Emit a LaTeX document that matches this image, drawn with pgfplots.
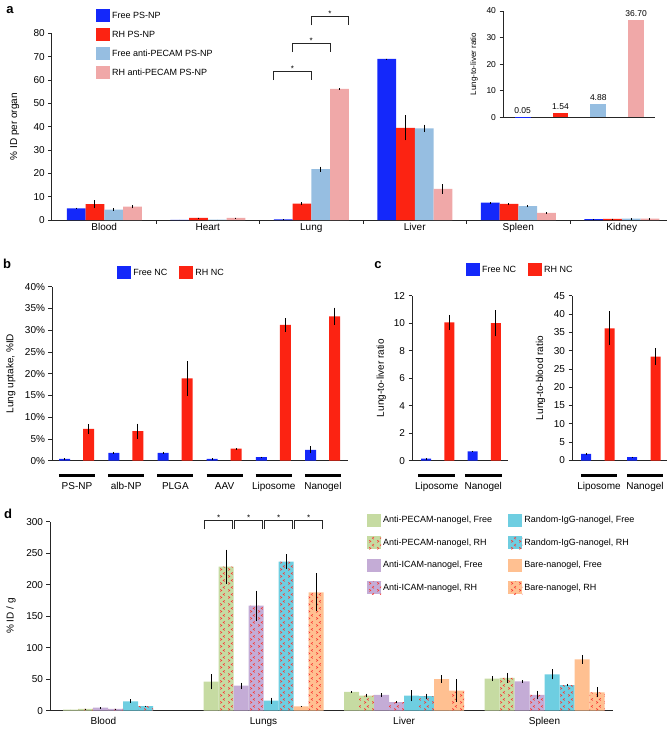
\documentclass[border=0pt]{standalone}
\usepackage{fontspec}
\setmainfont{Liberation Sans}
\usepackage{pgfplots}
\pgfplotsset{compat=1.18}
\usetikzlibrary{patterns}

\definecolor{cBlue}{RGB}{20,40,250}
\definecolor{cRed}{RGB}{252,35,18}
\definecolor{cLB}{RGB}{150,190,225}
\definecolor{cPink}{RGB}{240,168,168}
\definecolor{dGreen}{RGB}{198,219,162}
\definecolor{dPurple}{RGB}{196,172,214}
\definecolor{dCyan}{RGB}{110,206,225}
\definecolor{dOrange}{RGB}{255,192,145}
\definecolor{chev}{RGB}{250,55,50}

\pgfdeclarepatternformonly{chevrons}{\pgfqpoint{0pt}{0pt}}{\pgfqpoint{7.5pt}{7pt}}{\pgfqpoint{7.5pt}{7pt}}{%
  \pgfsetlinewidth{0.6pt}%
  \pgfpathmoveto{\pgfqpoint{1.3pt}{0.6pt}}\pgfpathlineto{\pgfqpoint{3.0pt}{1.8pt}}\pgfpathlineto{\pgfqpoint{1.3pt}{3.0pt}}%
  \pgfpathmoveto{\pgfqpoint{6.2pt}{4.0pt}}\pgfpathlineto{\pgfqpoint{4.5pt}{5.2pt}}\pgfpathlineto{\pgfqpoint{6.2pt}{6.4pt}}%
  \pgfusepath{stroke}}

\pgfplotsset{
  myax/.style={scale only axis, axis lines=left,
    axis line style={-, line width=0.8pt, black!85},
    tick align=outside, major tick length=3.5pt,
    tick style={line width=0.8pt, black!85},
    ticklabel style={font=\fontsize{10}{12}\selectfont},
    label style={font=\fontsize{10}{12}\selectfont},
    /pgf/number format/assume math mode=true,
    clip=false, ymin=0, ybar},
  eb/.style={error bars/.cd, y dir=both, y explicit, error mark=none,
    error bar style={line width=0.9pt, black}},
  sq/.style={legend image code/.code={\fill[##1] (0pt,-6.5pt) rectangle (14pt,6.5pt);}},
  rh/.style={postaction={pattern=chevrons, pattern color=chev}},
}

\begin{document}
\begin{tikzpicture}
\useasboundingbox (0,0) rectangle (667pt,-732pt);

% panel letters
\node[font=\bfseries\fontsize{13}{15}\selectfont] at (10pt,-10pt) {a};
\node[font=\bfseries\fontsize{13}{15}\selectfont] at (7pt,-264pt) {b};
\node[font=\bfseries\fontsize{13}{15}\selectfont] at (378pt,-265pt) {c};
\node[font=\bfseries\fontsize{13}{15}\selectfont] at (8pt,-514pt) {d};

% ---------------- panel a ----------------
\begin{axis}[myax, at={(51.7pt,-220pt)}, anchor=south west,
  width=615.6pt, height=186.7pt,
  xmin=-0.508, xmax=5.44, ymax=80, ytick={0,10,...,80},
  xtick={0.5,1.5,2.5,3.5,4.5}, xticklabels={,,,,},
  extra x ticks={0,1,2,3,4,5},
  extra x tick labels={Blood,Heart,Lung,Liver,Spleen,Kidney},
  extra x tick style={major tick length=0pt},
  bar width=18.75pt,
  ylabel={\% ID per organ},
  ylabel style={at={(axis description cs:-0.06,0.5)}, anchor=center},
  sq, legend cell align=left,
  legend style={draw=none, fill=none, at={(0.072,1.13)}, anchor=north west,
    inner sep=0pt, row sep=6pt, font=\fontsize{9}{11}\selectfont},
]
\addplot[fill=cBlue, draw=none, bar shift=-28.125pt, eb] coordinates {
  (0,5.0) +- (0,0.3) (1,0.1) +- (0,0) (2,0.3) +- (0,0.1)
  (3,69.0) +- (0,0.2) (4,7.4) +- (0,0.2) (5,0.4) +- (0,0.1)};
\addplot[fill=cRed, draw=none, bar shift=-9.375pt, eb] coordinates {
  (0,6.8) +- (0,1.7) (1,0.9) +- (0,0.1) (2,7.0) +- (0,0.6)
  (3,39.5) +- (0,5.4) (4,6.9) +- (0,0.3) (5,0.5) +- (0,0.1)};
\addplot[fill=cLB, draw=none, bar shift=9.375pt, eb] coordinates {
  (0,4.5) +- (0,0.6) (1,0.2) +- (0,0) (2,21.8) +- (0,1.1)
  (3,39.3) +- (0,1.6) (4,5.9) +- (0,0.4) (5,0.6) +- (0,0.2)};
\addplot[fill=cPink, draw=none, bar shift=28.125pt, eb] coordinates {
  (0,5.7) +- (0,0.7) (1,0.9) +- (0,0.1) (2,56.2) +- (0,0.2)
  (3,13.3) +- (0,2.1) (4,3.1) +- (0,0.3) (5,0.6) +- (0,0.2)};
\legend{Free PS-NP, RH PS-NP, Free anti-PECAM PS-NP, RH anti-PECAM PS-NP}
% significance brackets
\draw[line width=0.8pt, black!85] (axis cs:1.638,59.9) -- (axis cs:1.638,63.7) -- (axis cs:2.0,63.7) -- (axis cs:2.0,59.9);
\node[font=\fontsize{8}{9}\selectfont, anchor=base, inner sep=0pt] at (axis cs:1.819,63.7) {*};
\draw[line width=0.8pt, black!85] (axis cs:1.819,71.9) -- (axis cs:1.819,75.7) -- (axis cs:2.18,75.7) -- (axis cs:2.18,71.9);
\node[font=\fontsize{8}{9}\selectfont, anchor=base, inner sep=0pt] at (axis cs:2.0,75.7) {*};
\draw[line width=0.8pt, black!85] (axis cs:2.0,83.4) -- (axis cs:2.0,87.3) -- (axis cs:2.362,87.3) -- (axis cs:2.362,83.4);
\node[font=\fontsize{8}{9}\selectfont, anchor=base, inner sep=0pt] at (axis cs:2.181,87.3) {*};
\end{axis}

% inset
\begin{axis}[myax, at={(503pt,-117.3pt)}, anchor=south west,
  width=152pt, height=106.3pt,
  xmin=-0.52, xmax=3.5, ymax=40, ytick={0,10,...,40}, xtick=\empty,
  bar width=15.7pt,
  ticklabel style={font=\fontsize{8.5}{10}\selectfont},
  ylabel={Lung-to-liver ratio},
  ylabel style={font=\fontsize{8}{9}\selectfont, at={(axis description cs:-0.19,0.5)}, anchor=center},
  nodes near coords={\pgfmathprintnumber[fixed,fixed zerofill,precision=2]{\pgfplotspointmeta}},
  every node near coord/.append style={font=\fontsize{8.5}{10}\selectfont, black},
]
\addplot[fill=cBlue, draw=none, bar shift=0pt] coordinates {(0,0.05)};
\addplot[fill=cRed, draw=none, bar shift=0pt] coordinates {(1,1.54)};
\addplot[fill=cLB, draw=none, bar shift=0pt] coordinates {(2,4.88)};
\addplot[fill=cPink, draw=none, bar shift=0pt] coordinates {(3,36.70)};
\end{axis}

% ---------------- panel b ----------------
\begin{axis}[myax, at={(52pt,-460.7pt)}, anchor=south west,
  width=296pt, height=174pt,
  xmin=-0.508, xmax=5.51, ymax=40, ytick={0,5,...,40},
  yticklabel={\pgfmathprintnumber{\tick}\%},
  xtick={0,1,2,3,4,5}, xtick style={draw=none},
  xticklabels={{\rule{36pt}{3.3pt}\\[0.5pt]PS-NP},{\rule{36pt}{3.3pt}\\[0.5pt]alb-NP},
    {\rule{36pt}{3.3pt}\\[0.5pt]PLGA},{\rule{36pt}{3.3pt}\\[0.5pt]AAV},
    {\rule{36pt}{3.3pt}\\[0.5pt]Liposome},{\rule{36pt}{3.3pt}\\[0.5pt]Nanogel}},
  xticklabel style={align=center, yshift=-6pt},
  bar width=11pt,
  ylabel={Lung uptake, \%ID},
  ylabel style={at={(axis description cs:-0.139,0.5)}, anchor=center},
  sq, legend columns=2,
  legend style={draw=none, fill=none, at={(0.22,1.119)}, anchor=north west,
    inner sep=0pt, font=\fontsize{9}{11}\selectfont,
    /tikz/every even column/.append style={column sep=10pt}},
]
\addplot[fill=cBlue, draw=none, bar shift=-12.3pt, eb] coordinates {
  (0,0.45) +- (0,0.1) (1,1.8) +- (0,0.2) (2,1.8) +- (0,0.2)
  (3,0.4) +- (0,0.15) (4,0.8) +- (0,0.15) (5,2.5) +- (0,0.8)};
\addplot[fill=cRed, draw=none, bar shift=11.7pt, eb] coordinates {
  (0,7.3) +- (0,1.1) (1,6.8) +- (0,1.7) (2,18.9) +- (0,4.0)
  (3,2.8) +- (0,0.1) (4,31.2) +- (0,1.6) (5,33.2) +- (0,2.0)};
\legend{Free NC, RH NC}
\end{axis}

% ---------------- panel c left ----------------
\begin{axis}[myax, at={(412pt,-460.7pt)}, anchor=south west,
  width=96pt, height=165pt,
  xmin=-0.53, xmax=1.53, ymax=12, ytick={0,2,...,12},
  xtick={0,1}, xtick style={draw=none},
  xticklabels={{\rule{36.7pt}{3.3pt}\\[0.5pt]Liposome},{\rule{36.7pt}{3.3pt}\\[0.5pt]Nanogel}},
  xticklabel style={align=center, yshift=-6pt},
  bar width=10pt,
  ylabel={Lung-to-liver ratio},
  ylabel style={at={(axis description cs:-0.32,0.5)}, anchor=center},
  sq, legend columns=2,
  legend style={draw=none, fill=none, at={(0.5625,1.198)}, anchor=north west,
    inner sep=0pt, font=\fontsize{9}{11}\selectfont,
    /tikz/every even column/.append style={column sep=10pt}},
]
\addplot[fill=cBlue, draw=none, bar shift=-10.7pt, eb] coordinates {
  (0,0.15) +- (0,0.02) (1,0.68) +- (0,0.05)};
\addplot[fill=cRed, draw=none, bar shift=12.6pt, eb] coordinates {
  (0,10.06) +- (0,0.55) (1,10.0) +- (0,0.95)};
\legend{Free NC, RH NC}
\end{axis}

% ---------------- panel c right ----------------
\begin{axis}[myax, at={(572pt,-460.5pt)}, anchor=south west,
  width=95pt, height=164.8pt,
  xmin=-0.587, xmax=1.478, ymax=45, ytick={0,5,...,45},
  xtick={0,1}, xtick style={draw=none},
  xticklabels={{\rule{36pt}{3.3pt}\\[0.5pt]Liposome},{\rule{36pt}{3.3pt}\\[0.5pt]Nanogel}},
  xticklabel style={align=center, yshift=-6pt},
  bar width=10pt,
  ylabel={Lung-to-blood ratio},
  ylabel style={at={(axis description cs:-0.33,0.5)}, anchor=center},
]
\addplot[fill=cBlue, draw=none, bar shift=-13pt, eb] coordinates {
  (0,1.8) +- (0,0.3) (1,0.9) +- (0,0.15)};
\addplot[fill=cRed, draw=none, bar shift=10.5pt, eb] coordinates {
  (0,36.1) +- (0,4.6) (1,28.4) +- (0,2.2)};
\end{axis}

% ---------------- panel d ----------------
\begin{axis}[myax, at={(50pt,-710.7pt)}, anchor=south west,
  width=563.4pt, height=189pt,
  xmin=-0.52, xmax=3.49, ymax=300, ytick={0,50,...,300},
  xtick={-0.14,1,2,3}, xticklabels={Blood,Lungs,Liver,Spleen}, xtick style={draw=none},
  bar width=15pt,
  ylabel={\% ID / g},
  ylabel style={at={(axis description cs:-0.069,0.5)}, anchor=center},
  sq, legend columns=2, legend cell align=left,
  legend style={draw=none, fill=none, at={(0.5627,1.042)}, anchor=north west,
    inner sep=0pt, row sep=9.5pt, font=\fontsize{9}{11}\selectfont,
    /tikz/every even column/.append style={column sep=14pt}},
]
% green free
\addplot[fill=dGreen, draw=none, bar shift=-52.5pt, eb] coordinates {
  (0,1.6) +- (0,0) (1,46) +- (0,12) (2,30) +- (0,1.5) (3,50.8) +- (0,4)};
% cyan free
\addplot[fill=dCyan, draw=none, bar shift=7.5pt, eb] coordinates {
  (0,15) +- (0,3) (1,15.9) +- (0,5) (2,23.8) +- (0,9) (3,57.7) +- (0,8)};
% green RH
\addplot[fill=dGreen, draw=none, rh, bar shift=-37.5pt, eb] coordinates {
  (0,3) +- (0,0.5) (1,228.6) +- (0,27) (2,24) +- (0,3) (3,52) +- (0,8)};
% cyan RH
\addplot[fill=dCyan, draw=none, rh, bar shift=22.5pt, eb] coordinates {
  (0,7.4) +- (0,0.5) (1,236.5) +- (0,12) (2,23) +- (0,4) (3,40.7) +- (0,2)};
% purple free
\addplot[fill=dPurple, draw=none, bar shift=-22.5pt, eb] coordinates {
  (0,4.8) +- (0,1) (1,39.7) +- (0,5) (2,25) +- (0,3) (3,46.5) +- (0,2)};
% orange free
\addplot[fill=dOrange, draw=none, bar shift=37.5pt, eb] coordinates {
  (1,6.9) +- (0,0.5) (2,50) +- (0,6) (3,81.5) +- (0,7)};
% purple RH
\addplot[fill=dPurple, draw=none, rh, bar shift=-7.5pt, eb] coordinates {
  (0,3) +- (0,0.5) (1,166.7) +- (0,24) (2,13.8) +- (0,2) (3,25) +- (0,7)};
% orange RH
\addplot[fill=dOrange, draw=none, rh, bar shift=52.5pt, eb] coordinates {
  (1,187.8) +- (0,30) (2,32) +- (0,18) (3,29) +- (0,8)};
\legend{{Anti-PECAM-nanogel, Free},{Random-IgG-nanogel, Free},
  {Anti-PECAM-nanogel, RH},{Random-IgG-nanogel, RH},
  {Anti-ICAM-nanogel, Free},{Bare-nanogel, Free},
  {Anti-ICAM-nanogel, RH},{Bare-nanogel, RH}}
% significance brackets
\draw[line width=0.8pt, black!85] (axis cs:0.580,288.4) -- (axis cs:0.580,301.6) -- (axis cs:0.779,301.6) -- (axis cs:0.779,288.4);
\node[font=\fontsize{8}{9}\selectfont, anchor=base, inner sep=0pt] at (axis cs:0.68,301.6) {*};
\draw[line width=0.8pt, black!85] (axis cs:0.794,288.4) -- (axis cs:0.794,301.6) -- (axis cs:0.993,301.6) -- (axis cs:0.993,288.4);
\node[font=\fontsize{8}{9}\selectfont, anchor=base, inner sep=0pt] at (axis cs:0.894,301.6) {*};
\draw[line width=0.8pt, black!85] (axis cs:1.007,288.4) -- (axis cs:1.007,301.6) -- (axis cs:1.206,301.6) -- (axis cs:1.206,288.4);
\node[font=\fontsize{8}{9}\selectfont, anchor=base, inner sep=0pt] at (axis cs:1.107,301.6) {*};
\draw[line width=0.8pt, black!85] (axis cs:1.221,288.4) -- (axis cs:1.221,301.6) -- (axis cs:1.420,301.6) -- (axis cs:1.420,288.4);
\node[font=\fontsize{8}{9}\selectfont, anchor=base, inner sep=0pt] at (axis cs:1.321,301.6) {*};
\end{axis}

\end{tikzpicture}
\end{document}
